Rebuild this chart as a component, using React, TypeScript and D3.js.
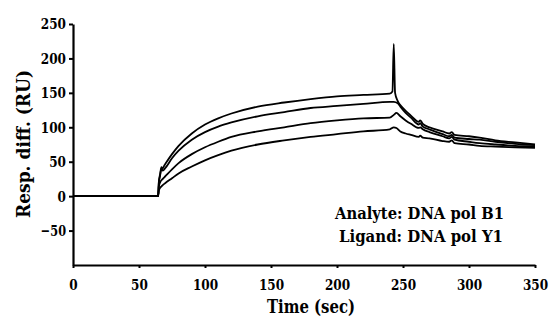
import { useEffect, useRef } from 'react';
import * as d3 from 'd3';

// sensorgram curves, [time (s), response (RU)]
const curve1 = [[0,0],[64.5,0],[65,20],[66,32],[67,42],[68,40],[69,44],[70,47],[75,61],[80,73],[90,91],[100,104],[110,113],[120,120],[140,130],[160,136],[180,141],[200,145],[220,147],[240,149],[242,152],[243,221],[244,150],[246,138],[250,128],[256,117],[262,108],[263,110],[265,105],[270,100],[280,94],[285,91],[287,93],[289,89],[300,87],[308,85],[320,81],[335,78],[350,75]];
const curve2 = [[0,0],[64.5,0],[65,18],[66,30],[67,40],[68,37],[70,41],[75,55],[80,66],[90,82],[100,93],[110,101],[120,107],[140,116],[160,122],[180,128],[200,131],[220,134],[240,137],[243,137],[246,135],[248,130],[252,121],[256,114],[262,104],[263,106],[265,101],[270,97],[280,90],[285,87],[287,89],[289,85],[300,83],[308,82],[320,79],[335,76],[350,74]];
const curve3 = [[0,0],[64.5,0],[65,14],[66,20],[68,25],[70,29],[75,39],[80,48],[90,61],[100,71],[110,79],[120,86],[140,94],[160,100],[180,106],[200,110],[220,113],[240,114],[243,118],[245,121],[248,116],[252,110],[256,105],[262,99],[263,100],[265,97],[270,93],[280,87],[285,84],[287,86],[289,82],[300,79],[308,77],[320,75],[335,73],[350,72]];
const curve4 = [[0,0],[64.5,0],[65,8],[66,12],[68,16],[70,19],[75,26],[80,33],[90,43],[100,52],[110,59.5],[120,66],[140,75],[160,81],[180,86],[200,90],[220,94],[240,97],[243,100],[245,99],[248,94],[252,91],[256,89],[262,86],[263,88],[265,85],[270,84],[280,80],[285,79],[287,81],[289,77],[300,75],[308,73],[320,72],[335,71],[350,70]];

const xTicks = [0, 50, 100, 150, 200, 250, 300, 350];
const yTicks = [-50, 0, 50, 100, 150, 200, 250];
const notes = ['Analyte: DNA pol B1', 'Ligand: DNA pol Y1'];

const App = () => {
    const svgRef = useRef(null);

    useEffect(() => {
        const width = 553;
        const height = 322;
        const serif = "'DejaVu Serif', serif";

        const svg = d3.select(svgRef.current)
            .attr('width', width)
            .attr('height', height);
        svg.selectAll('*').remove();

        const x = d3.scaleLinear().domain([0, 350]).range([73, 535]);
        const y = d3.scaleLinear().domain([-100, 250]).range([265, 24]);

        const line = d3.line<number[]>()
            .x(d => x(d[0]))
            .y(d => y(d[1]))
            .curve(d3.curveMonotoneX);

        // curves
        svg.selectAll('.curve')
            .data([curve1, curve2, curve3, curve4])
            .enter().append('path')
            .attr('class', 'curve')
            .attr('d', d => line(d))
            .attr('fill', 'none')
            .attr('stroke', '#000')
            .attr('stroke-width', 1.8)
            .attr('stroke-linejoin', 'round');

        // x axis
        const xAxis = svg.append('g')
            .attr('transform', `translate(0,${y(-100)})`)
            .call(d3.axisBottom(x).tickValues(xTicks).tickSize(3).tickPadding(11).tickSizeOuter(0));
        xAxis.attr('font-family', null);
        xAxis.select('.domain').attr('stroke-width', 2.2);
        xAxis.selectAll('line').attr('stroke-width', 2);
        xAxis.selectAll('text')
            .style('font-family', serif)
            .style('font-weight', 'bold')
            .style('font-size', '15.5px')
            .attr('textLength', d => String(d).length * 8.4)
            .attr('lengthAdjust', 'spacingAndGlyphs');

        // y axis
        const yAxis = svg.append('g')
            .attr('transform', `translate(${x(0)},0)`)
            .call(d3.axisLeft(y).tickValues(yTicks).tickSize(4).tickPadding(3).tickSizeOuter(0));
        yAxis.attr('font-family', null);
        yAxis.select('.domain').attr('stroke-width', 2.2);
        yAxis.selectAll('line').attr('stroke-width', 2);
        yAxis.selectAll('text')
            .style('font-family', serif)
            .style('font-weight', 'bold')
            .style('font-size', '15.5px')
            .attr('textLength', d => String(d).length * 8.4)
            .attr('lengthAdjust', 'spacingAndGlyphs');

        // axis titles
        svg.append('text')
            .attr('x', 311)
            .attr('y', 313)
            .attr('text-anchor', 'middle')
            .attr('textLength', 88)
            .attr('lengthAdjust', 'spacingAndGlyphs')
            .style('font-family', serif)
            .style('font-weight', 'bold')
            .style('font-size', '18px')
            .text('Time (sec)');

        svg.append('text')
            .attr('transform', `translate(30,144) rotate(-90)`)
            .attr('text-anchor', 'middle')
            .attr('textLength', 148)
            .attr('lengthAdjust', 'spacingAndGlyphs')
            .style('font-family', serif)
            .style('font-weight', 'bold')
            .style('font-size', '19px')
            .text('Resp. diff. (RU)');

        // annotation
        svg.selectAll('.note')
            .data(notes)
            .enter().append('text')
            .attr('class', 'note')
            .attr('x', (d, i) => (i === 0 ? 335 : 339))
            .attr('y', (d, i) => 219 + i * 23)
            .attr('textLength', (d, i) => (i === 0 ? 169 : 164))
            .attr('lengthAdjust', 'spacingAndGlyphs')
            .style('font-family', serif)
            .style('font-weight', 'bold')
            .style('font-size', '17px')
            .text(d => d);
    }, []);

    return (
        <div style={{ position: 'absolute', left: 0, top: 0 }}>
            <svg ref={svgRef}></svg>
        </div>
    );
};

export default App;
